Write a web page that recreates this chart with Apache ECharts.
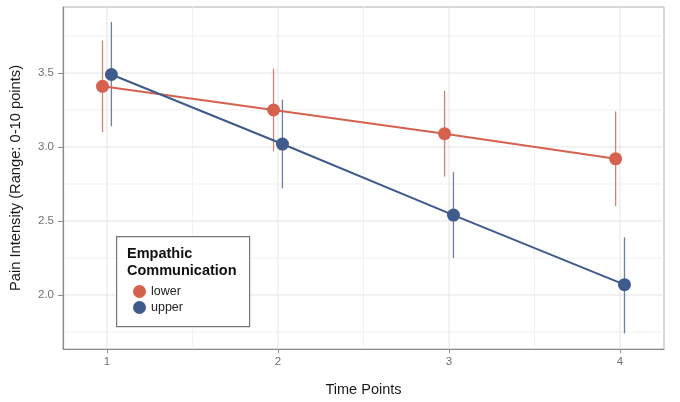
<!DOCTYPE html>
<html>
<head>
<meta charset="utf-8">
<script src="https://cdn.jsdelivr.net/npm/echarts@6/dist/echarts.min.js"></script>
<style>html,body{margin:0;padding:0;background:#fff}#c{width:680px;height:402px}</style>
</head>
<body>
<div id="c"></div>
<script>
const timePoints = [1, 2, 3, 4];
const xTickLabels = ['1', '2', '3', '4'];
const yTickValues = [2.0, 2.5, 3.0, 3.5];
const groups = ['lower', 'upper'];
const lowerMean = [3.41, 3.25, 3.09, 2.92];
const lowerLow  = [3.10, 2.97, 2.80, 2.60];
const lowerHigh = [3.72, 3.53, 3.38, 3.24];
const upperMean = [3.49, 3.02, 2.54, 2.07];
const upperLow  = [3.14, 2.72, 2.25, 1.74];
const upperHigh = [3.845, 3.32, 2.83, 2.39];

const colors = { lower: '#d5614f', upper: '#3e5b8b' };
const barColors = { lower: '#c97869', upper: '#5d7298' };
const dodge = { lower: -0.026, upper: 0.026 };
const X_MIN = 0.743, X_MAX = 4.257, Y_MIN = 1.635, Y_MAX = 3.946;

function mids(arr) {
  const out = [];
  for (let i = 0; i < arr.length - 1; i++) out.push((arr[i] + arr[i + 1]) / 2);
  return out;
}
const yStep = yTickValues[1] - yTickValues[0];
const yMinor = [yTickValues[0] - yStep / 2].concat(mids(yTickValues), [yTickValues[yTickValues.length - 1] + yStep / 2]);
const xMinor = mids(timePoints);

const seriesData = {
  lower: { mean: lowerMean, lo: lowerLow, hi: lowerHigh },
  upper: { mean: upperMean, lo: upperLow, hi: upperHigh }
};

// gridline records: [axis(0=x,1=y), value, major(1)/minor(0)]
const gridRecords = []
  .concat(xMinor.map(v => [0, v, 0]))
  .concat(yMinor.map(v => [1, v, 0]))
  .concat(timePoints.map(v => [0, v, 1]))
  .concat(yTickValues.map(v => [1, v, 1]));

const series = [];
series.push({
  name: 'gridlines', type: 'custom', z: 0, silent: true, clip: true,
  data: gridRecords,
  renderItem: function (params, api) {
    const cs = params.coordSys;
    const axis = api.value(0), v = api.value(1), major = api.value(2);
    const stroke = major ? '#e4e4e4' : '#f1f1f1';
    if (axis === 0) {
      const x = api.coord([v, Y_MIN])[0];
      return { type: 'line', shape: { x1: x, y1: cs.y, x2: x, y2: cs.y + cs.height }, style: { stroke: stroke, lineWidth: 1 } };
    }
    const y = api.coord([X_MIN, v])[1];
    return { type: 'line', shape: { x1: cs.x, y1: y, x2: cs.x + cs.width, y2: y }, style: { stroke: stroke, lineWidth: 1 } };
  }
});

groups.forEach(g => {
  const d = seriesData[g];
  series.push({
    name: g + ' range', type: 'custom', z: 2, silent: true,
    data: timePoints.map((t, i) => [t + dodge[g], d.lo[i], d.hi[i]]),
    renderItem: function (params, api) {
      const x = api.value(0);
      const p1 = api.coord([x, api.value(1)]);
      const p2 = api.coord([x, api.value(2)]);
      return { type: 'line', shape: { x1: p1[0], y1: p1[1], x2: p2[0], y2: p2[1] },
        style: { stroke: barColors[g], lineWidth: 1.3, opacity: 0.9 } };
    }
  });
  series.push({
    name: g, type: 'line', z: 3,
    data: timePoints.map((t, i) => [t + dodge[g], d.mean[i]]),
    symbol: 'circle', symbolSize: 13,
    itemStyle: { color: colors[g] },
    lineStyle: { color: colors[g], width: 2 }
  });
});

const chart = echarts.init(document.getElementById('c'));
chart.setOption({
  animation: false,
  backgroundColor: '#ffffff',
  grid: { left: 62, right: 16, top: 7, bottom: 53, show: true, borderColor: '#b0b0b0', borderWidth: 1 },
  xAxis: {
    type: 'value', min: X_MIN, max: X_MAX,
    name: 'Time Points', nameLocation: 'middle', nameGap: 33,
    nameTextStyle: { color: '#1a1a1a', fontSize: 14.5, fontFamily: 'Liberation Sans' },
    axisLine: { show: true, lineStyle: { color: '#8c8c8c', width: 1.2 } },
    axisTick: { show: true, length: 4, customValues: timePoints, lineStyle: { color: '#8c8c8c' } },
    axisLabel: { customValues: timePoints, color: '#707070', fontSize: 11.5, margin: 7, fontFamily: 'Liberation Sans',
      formatter: v => xTickLabels[timePoints.indexOf(v)] },
    splitLine: { show: false }
  },
  yAxis: {
    type: 'value', min: Y_MIN, max: Y_MAX,
    name: 'Pain Intensity (Range: 0-10 points)', nameLocation: 'middle', nameGap: 40,
    nameTextStyle: { color: '#1a1a1a', fontSize: 14.7, fontFamily: 'Liberation Sans' },
    axisLine: { show: true, lineStyle: { color: '#8c8c8c', width: 1.2 } },
    axisTick: { show: true, length: 5, customValues: yTickValues, lineStyle: { color: '#8c8c8c' } },
    axisLabel: { customValues: yTickValues, color: '#707070', fontSize: 11.5, margin: 9, fontFamily: 'Liberation Sans',
      formatter: v => v.toFixed(1) },
    splitLine: { show: false }
  },
  legend: {
    data: groups, orient: 'vertical', left: 128, top: 280, z: 20,
    itemWidth: 13, itemHeight: 13, itemGap: 3, icon: 'circle',
    textStyle: { color: '#222', fontSize: 12.5, fontFamily: 'Liberation Sans', padding: [0, 0, 0, 0] }
  },
  graphic: [
    { type: 'rect', left: 116, top: 236, z: 1, shape: { width: 133, height: 90 },
      style: { fill: '#ffffff', stroke: '#777777', lineWidth: 1.2 } },
    { type: 'text', left: 127, top: 245, z: 2,
      style: { text: 'Empathic\nCommunication', fill: '#111', font: 'bold 14.5px "Liberation Sans"', lineHeight: 17 } }
  ],
  series: series
});
</script>
</body>
</html>
